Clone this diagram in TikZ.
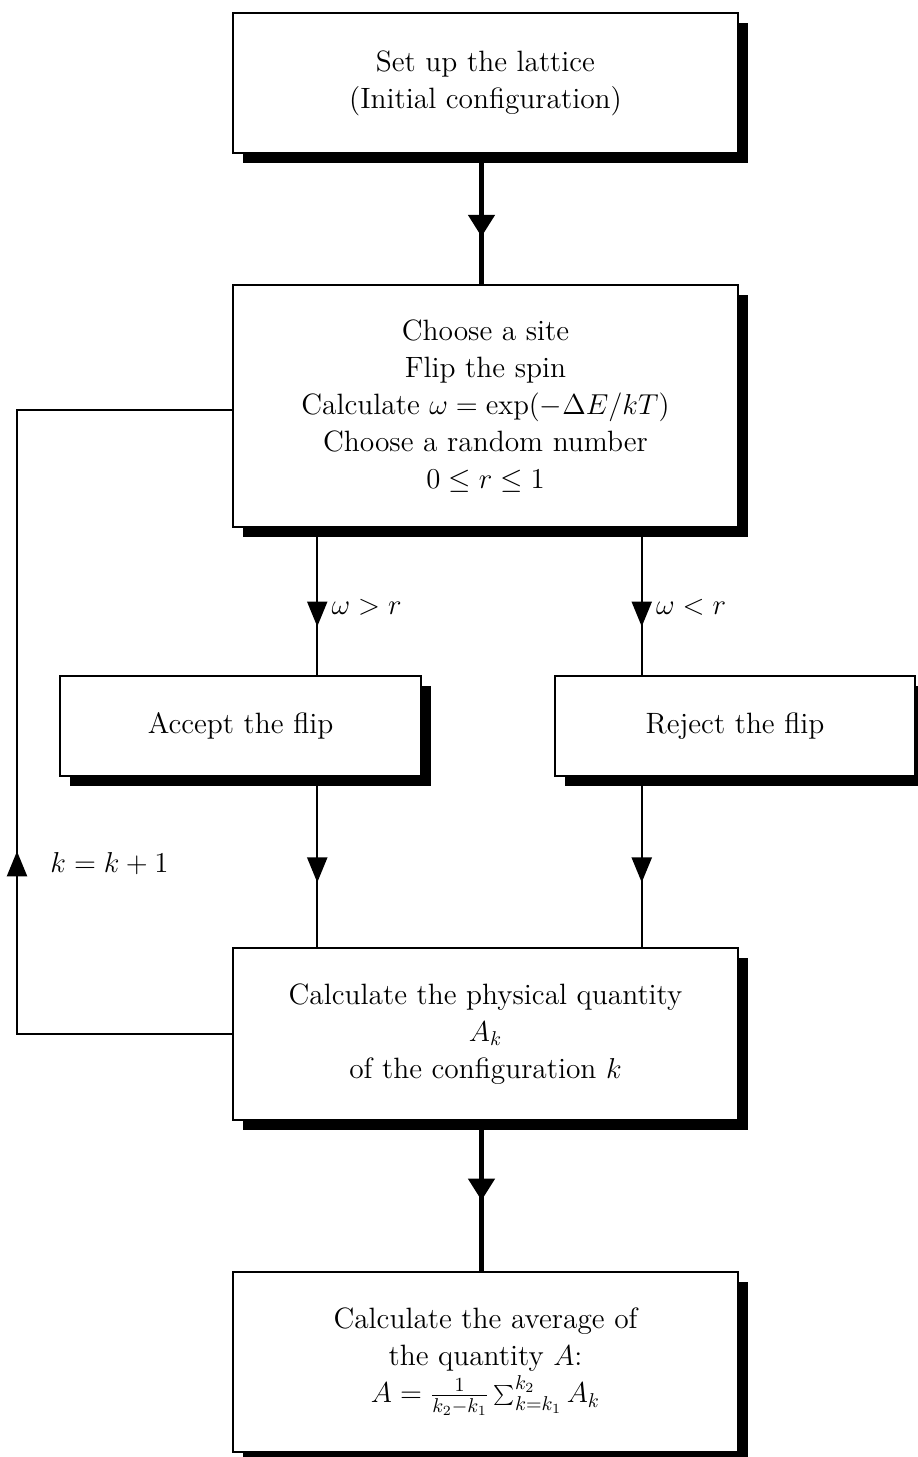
\documentclass[tikz,border=0pt]{standalone}
\usetikzlibrary{shadows,calc,decorations.markings,arrows.meta}
\begin{document}
\begin{tikzpicture}[x=0.5pt,y=-0.5pt,
  box/.style={draw,line width=0.75pt,fill=white,inner sep=0pt,align=center,
    font=\fontsize{14.7}{18.5}\selectfont,
    drop shadow={shadow xshift=5pt,shadow yshift=-5pt,fill=black,opacity=1}},
  lbl/.style={font=\fontsize{14.7}{18.5}\selectfont,inner sep=0pt},
  thinline/.style={line width=1pt},
  thickline/.style={line width=2.5pt},
  thinmid/.style={postaction={decorate,decoration={markings,
    mark=at position #1 with {\arrow{Triangle[length=12.5pt,width=10pt]}}}}},
  thickmid/.style={postaction={decorate,decoration={markings,
    mark=at position #1 with {\arrow{Triangle[length=11pt,width=13pt]}}}}}]
\useasboundingbox (0,0) rectangle (917,1457);

\node[box,minimum width=252.5pt,minimum height=70pt] (top) at (485.5,83)
  {Set up the lattice\\(Initial configuration)};
\node[box,minimum width=252.5pt,minimum height=121pt] (choose) at (485.5,406)
  {Choose a site\\Flip the spin\\Calculate $\omega = \exp(-\Delta E/kT)$\\Choose a random number\\$0\leq r\leq 1$};
\node[box,minimum width=180.5pt,minimum height=50pt] (accept) at (240.5,726) {Accept the flip};
\node[box,minimum width=180pt,minimum height=50pt] (reject) at (735,726) {Reject the flip};
\node[box,minimum width=252.5pt,minimum height=86pt] (calc) at (485.5,1034)
  {Calculate the physical quantity\\$A_k$\\of the configuration $k$};
\node[box,minimum width=252.5pt,minimum height=90pt] (avg) at (485.5,1362)
  {Calculate the average of\\the quantity $A$:\\$A=\frac{1}{k_2-k_1}\sum_{k=k_1}^{k_2}A_k$};

% top -> choose
\draw[thickline,thickmid=0.636] ($(top.south)+(-4,0)$) -- ($(choose.north)+(-4,0)$);

% choose -> accept / reject
\coordinate (c1) at ($(choose.south west)+(85,0)$);
\coordinate (c2) at ($(choose.south east)+(-97,0)$);
\draw[thinline,thinmid=0.67] (c1) -- (c1 |- accept.north);
\draw[thinline,thinmid=0.67] (c2) -- (c2 |- reject.north);
\node[lbl,anchor=west] (l1) at ($(c1)+(14,80)$) {$\omega > r$};
\node[lbl,anchor=west] (l2) at ($(c2)+(14,80)$) {$\omega < r$};

% accept / reject -> calc
\coordinate (c3) at (c1 |- accept.south);
\coordinate (c4) at (c2 |- reject.south);
\draw[thinline,thinmid=0.62] (c3) -- (c3 |- calc.north);
\draw[thinline,thinmid=0.62] (c4) -- (c4 |- calc.north);

% calc -> avg
\draw[thickline,thickmid=0.53] ($(calc.south)+(-4,0)$) -- ($(avg.north)+(-4,0)$);

% loop
\coordinate (lx) at (17,0);
\coordinate (ce) at ($(choose.west)+(0,4)$);
\draw[thinline,thinmid=199pt] (calc.west) -- (calc.west -| lx) -- (lx |- ce) -- (ce);
\node[lbl,anchor=west] (l3) at (50,864) {$k=k+1$};
\end{tikzpicture}
\end{document}
